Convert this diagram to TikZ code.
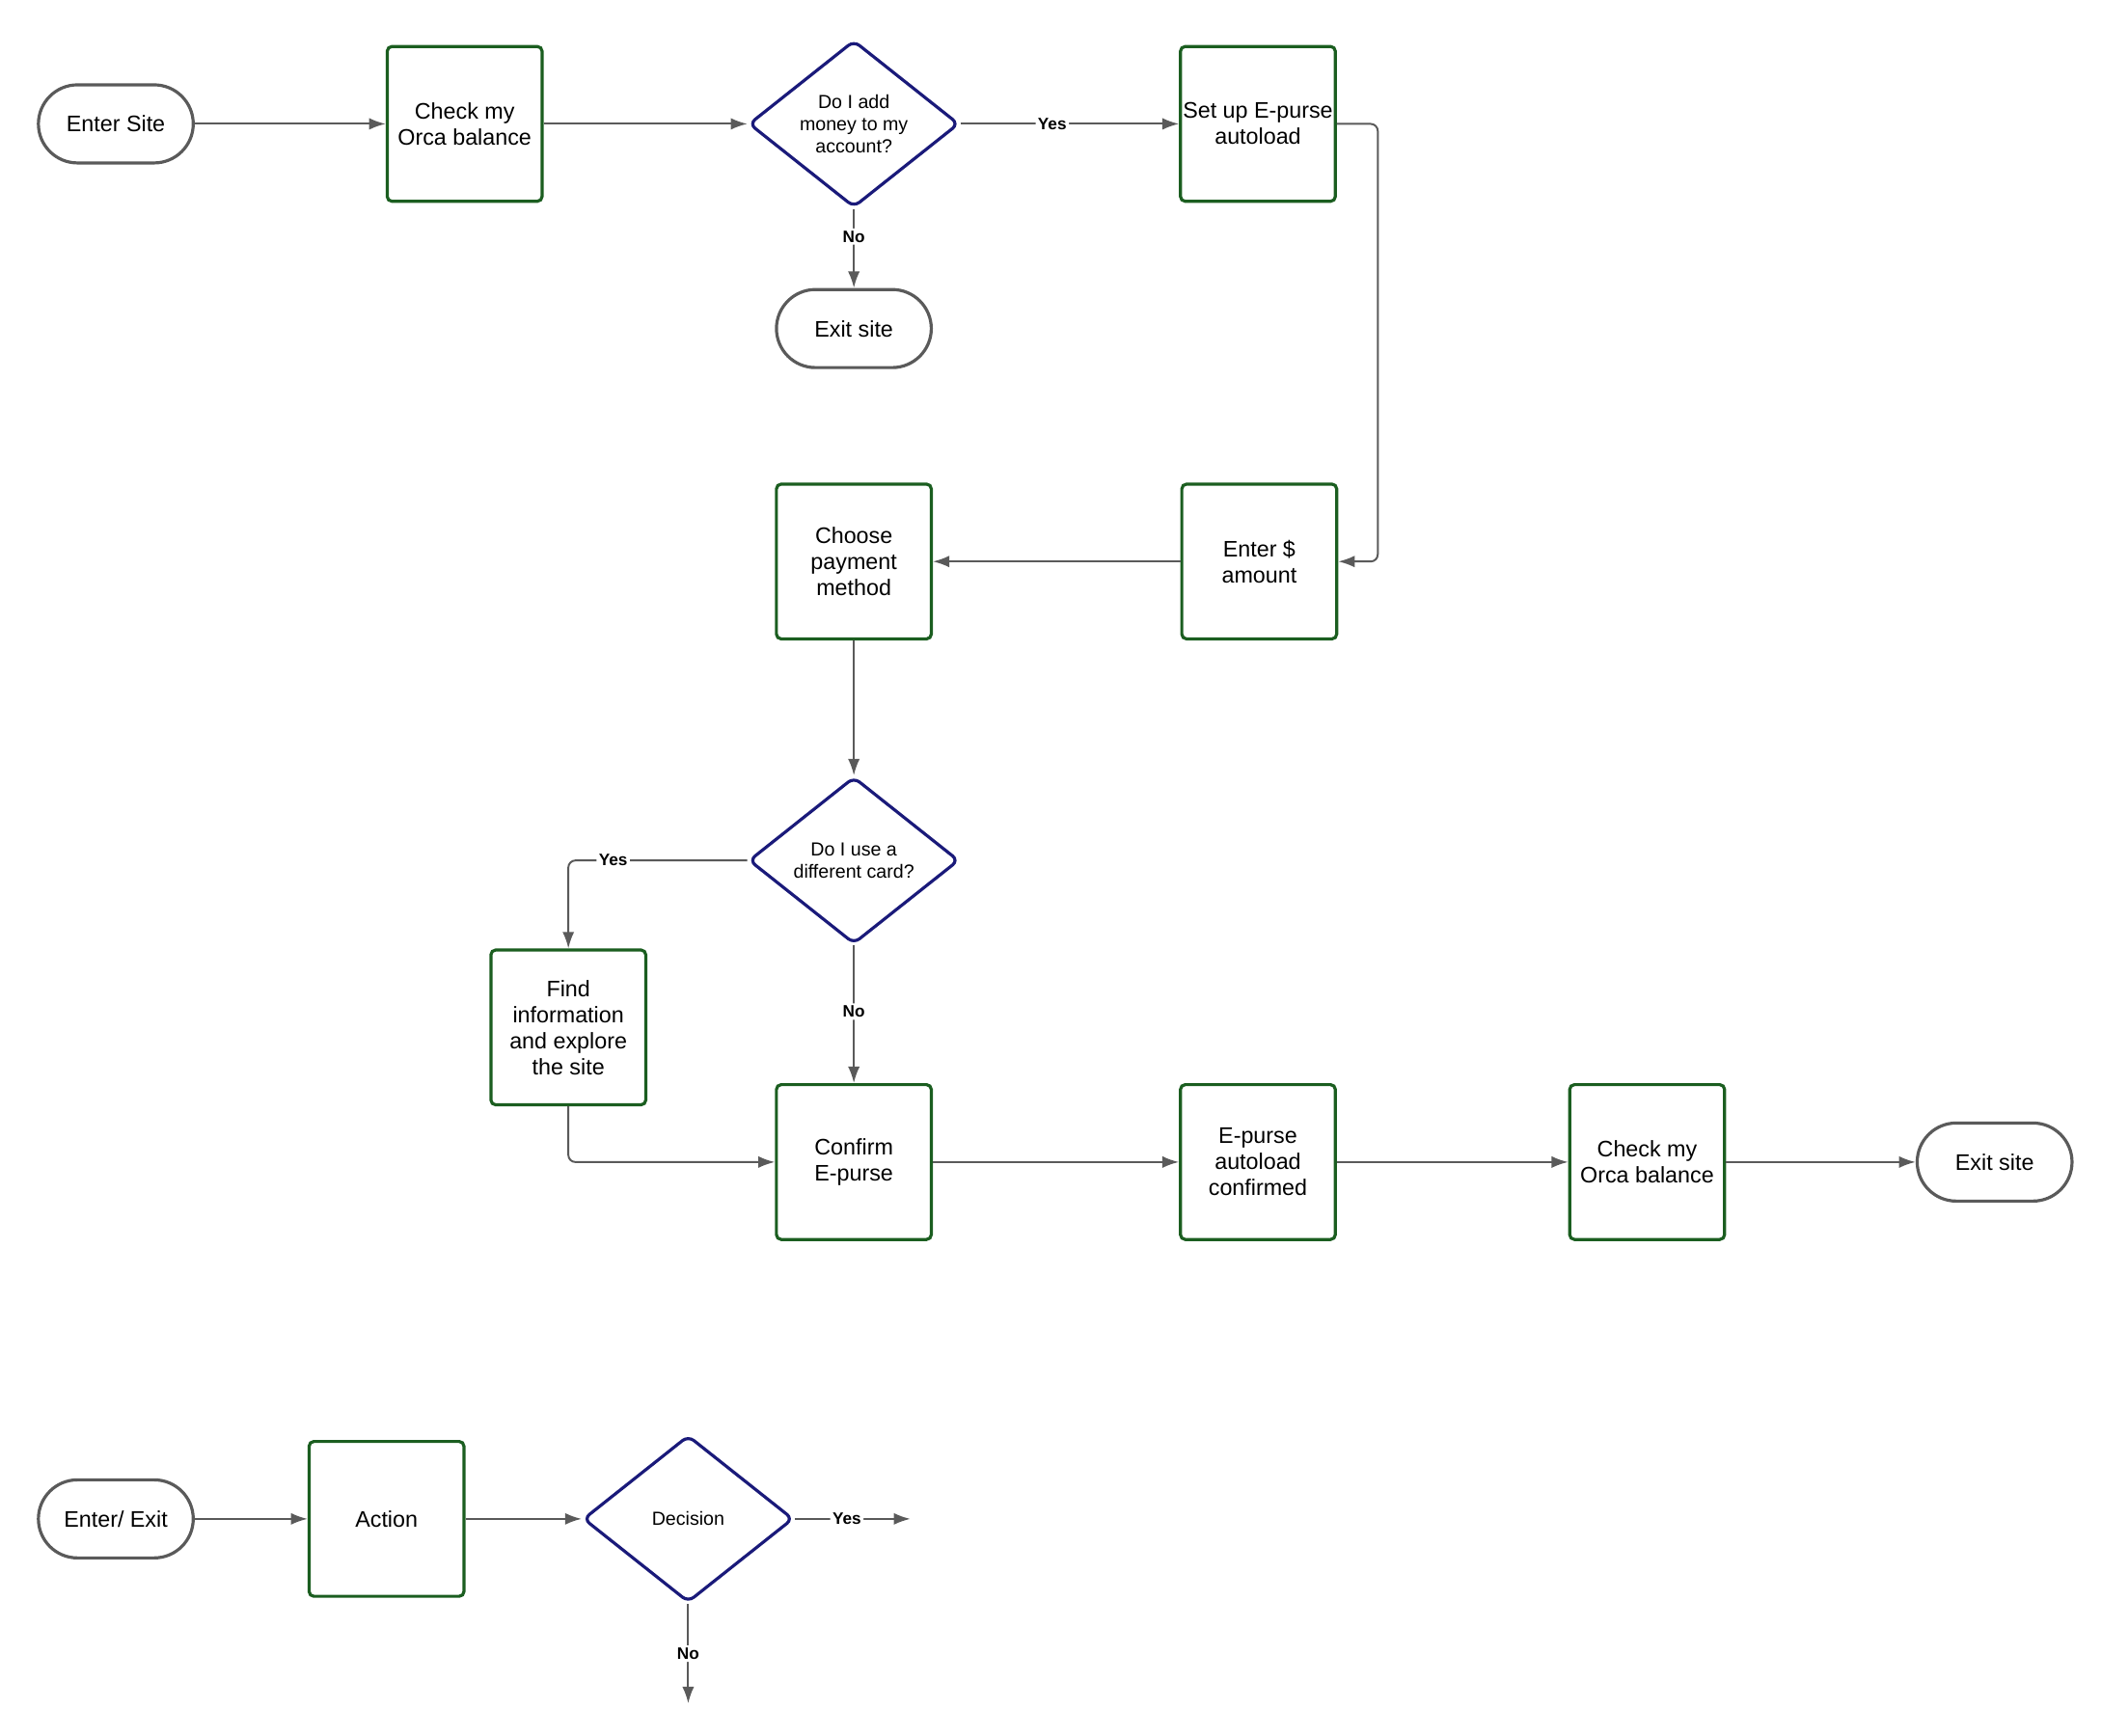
\documentclass[tikz,border=0pt]{standalone}
\usepackage{fontspec}
\setmainfont{Liberation Sans}
\usetikzlibrary{shapes.geometric,arrows.meta}
\definecolor{actgreen}{HTML}{1B5E20}
\definecolor{decblue}{HTML}{1A1A7A}
\definecolor{lnkgray}{HTML}{5A5A5A}
\begin{document}
\begin{tikzpicture}[x=0.02cm,y=-0.02cm]
	\path [use as bounding box] (0,0) rectangle (1560,1289);
	\tikzstyle{action} = [draw=actgreen, line width=1.3pt, rounded corners=2pt, minimum width=2.3cm, minimum height=2.3cm, inner sep=1pt, align=center, font=\fontsize{9.5}{11}\selectfont]
	\tikzstyle{decision} = [diamond, draw=decblue, line width=1.3pt, rounded corners=3pt, aspect=1.26, minimum width=3.12cm, minimum height=2.48cm, inner sep=0pt, align=center, font=\fontsize{8}{9.5}\selectfont]
	\tikzstyle{terminal} = [draw=lnkgray, line width=1.3pt, rounded corners=0.58cm, minimum width=2.3cm, minimum height=1.16cm, font=\fontsize{9.5}{11}\selectfont]
	\tikzstyle{link} = [draw=lnkgray, line width=0.8pt, rounded corners=3pt, -{Latex[length=7pt,width=5pt]}]
	\tikzstyle{answer} = [fill=white, inner sep=1pt, font=\bfseries\fontsize{7}{8.5}\selectfont]
	% main flow
	\node[terminal] (enter) at (86,92) {Enter Site};
	\node[action] (check) at (345,92) {Check my\\Orca balance};
	\node[decision] (addmoney) at (634,92) {Do I add\\money to my\\account?};
	\node[action] (setup) at (934,92) {Set up E-purse\\autoload};
	\node[terminal] (exitA) at (634,244) {Exit site};
	\node[action] (amount) at (935,417) {Enter \$\\amount};
	\node[action] (payment) at (634,417) {Choose\\payment\\method};
	\node[decision] (othercard) at (634,639) {Do I use a\\different card?};
	\node[action] (explore) at (422,763) {Find\\information\\and explore\\the site};
	\node[action] (confirm) at (634,863) {Confirm\\E-purse};
	\node[action] (confirmed) at (934,863) {E-purse\\autoload\\confirmed};
	\node[action] (checkB) at (1223,863) {Check my\\Orca balance};
	\node[terminal] (exitB) at (1481,863) {Exit site};
	\draw[link] (enter) -- (check);
	\draw[link] (check) -- (addmoney);
	\draw[link] (addmoney) -- node[answer, pos=0.42] {Yes} (setup);
	\draw[link] (addmoney) -- node[answer, pos=0.35] {No} (exitA);
	\draw[link] (setup.east) -- (1023,92) |- (amount.east);
	\draw[link] (amount) -- (payment);
	\draw[link] (payment) -- (othercard);
	\draw[link] (othercard.west) -- node[answer, pos=0.75] {Yes} (422,639) -- (explore.north);
	\draw[link] (othercard) -- node[answer, pos=0.48] {No} (confirm);
	\draw[link] (explore.south) |- (confirm.west);
	\draw[link] (confirm) -- (confirmed);
	\draw[link] (confirmed) -- (checkB);
	\draw[link] (checkB) -- (exitB);
	% legend
	\node[terminal] (legend term) at (86,1128) {Enter/ Exit};
	\node[action] (legend act) at (287,1128) {Action};
	\node[decision] (legend dec) at (511,1128) {Decision};
	\coordinate (legend yes) at (676,1128);
	\coordinate (legend no) at (511,1265);
	\draw[link] (legend term) -- (legend act);
	\draw[link] (legend act) -- (legend dec);
	\draw[link] (legend dec) -- node[answer, pos=0.45] {Yes} (legend yes);
	\draw[link] (legend dec) -- node[answer, pos=0.5] {No} (legend no);
\end{tikzpicture}
\end{document}
